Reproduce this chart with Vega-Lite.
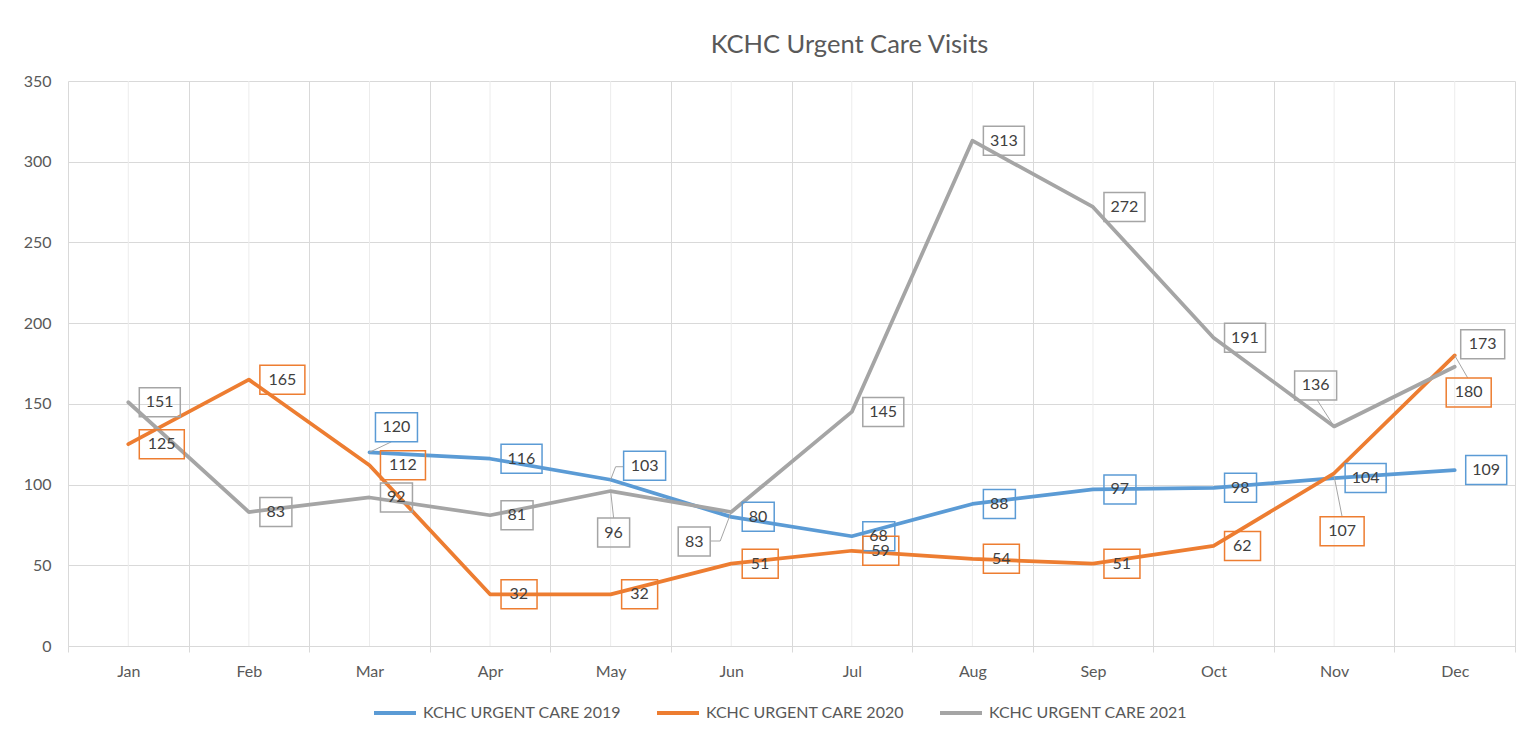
{
  "$schema": "https://vega.github.io/schema/vega-lite/v6.json",
  "width": 1447,
  "height": 565,
  "autosize": {"type": "none"},
  "padding": {"left": 68, "top": 81, "right": 14, "bottom": 92},
  "background": "#ffffff",
  "config": {
    "font": "Lato",
    "view": {"stroke": null},
    "text": {"font": "Lato"}
  },
  "title": {
    "text": "KCHC Urgent Care Visits",
    "fontSize": 25.5,
    "font": "Lato",
    "fontWeight": "normal",
    "color": "#595959",
    "dx": 58,
    "offset": 15
  },
  "data": {
    "values": [
      {"month": "Mar", "series": "KCHC URGENT CARE 2019", "value": 120},
      {"month": "Apr", "series": "KCHC URGENT CARE 2019", "value": 116},
      {"month": "May", "series": "KCHC URGENT CARE 2019", "value": 103},
      {"month": "Jun", "series": "KCHC URGENT CARE 2019", "value": 80},
      {"month": "Jul", "series": "KCHC URGENT CARE 2019", "value": 68},
      {"month": "Aug", "series": "KCHC URGENT CARE 2019", "value": 88},
      {"month": "Sep", "series": "KCHC URGENT CARE 2019", "value": 97},
      {"month": "Oct", "series": "KCHC URGENT CARE 2019", "value": 98},
      {"month": "Nov", "series": "KCHC URGENT CARE 2019", "value": 104},
      {"month": "Dec", "series": "KCHC URGENT CARE 2019", "value": 109},
      {"month": "Jan", "series": "KCHC URGENT CARE 2020", "value": 125},
      {"month": "Feb", "series": "KCHC URGENT CARE 2020", "value": 165},
      {"month": "Mar", "series": "KCHC URGENT CARE 2020", "value": 112},
      {"month": "Apr", "series": "KCHC URGENT CARE 2020", "value": 32},
      {"month": "May", "series": "KCHC URGENT CARE 2020", "value": 32},
      {"month": "Jun", "series": "KCHC URGENT CARE 2020", "value": 51},
      {"month": "Jul", "series": "KCHC URGENT CARE 2020", "value": 59},
      {"month": "Aug", "series": "KCHC URGENT CARE 2020", "value": 54},
      {"month": "Sep", "series": "KCHC URGENT CARE 2020", "value": 51},
      {"month": "Oct", "series": "KCHC URGENT CARE 2020", "value": 62},
      {"month": "Nov", "series": "KCHC URGENT CARE 2020", "value": 107},
      {"month": "Dec", "series": "KCHC URGENT CARE 2020", "value": 180},
      {"month": "Jan", "series": "KCHC URGENT CARE 2021", "value": 151},
      {"month": "Feb", "series": "KCHC URGENT CARE 2021", "value": 83},
      {"month": "Mar", "series": "KCHC URGENT CARE 2021", "value": 92},
      {"month": "Apr", "series": "KCHC URGENT CARE 2021", "value": 81},
      {"month": "May", "series": "KCHC URGENT CARE 2021", "value": 96},
      {"month": "Jun", "series": "KCHC URGENT CARE 2021", "value": 83},
      {"month": "Jul", "series": "KCHC URGENT CARE 2021", "value": 145},
      {"month": "Aug", "series": "KCHC URGENT CARE 2021", "value": 313},
      {"month": "Sep", "series": "KCHC URGENT CARE 2021", "value": 272},
      {"month": "Oct", "series": "KCHC URGENT CARE 2021", "value": 191},
      {"month": "Nov", "series": "KCHC URGENT CARE 2021", "value": 136},
      {"month": "Dec", "series": "KCHC URGENT CARE 2021", "value": 173}
    ]
  },
  "encoding": {
    "x": {
      "field": "month",
      "type": "ordinal",
      "sort": ["Jan", "Feb", "Mar", "Apr", "May", "Jun", "Jul", "Aug", "Sep", "Oct", "Nov", "Dec"],
      "scale": {"paddingInner": 0, "paddingOuter": 0},
      "axis": {
        "title": null,
        "labelAngle": 0,
        "labelFontSize": 16,
        "labelColor": "#595959",
        "labelPadding": 11,
        "tickBand": "extent",
        "tickSize": 6,
        "tickColor": "#d9d9d9",
        "domainColor": "#d9d9d9",
        "grid": true,
        "gridColor": "#d9d9d9"
      }
    }
  },
  "layer": [
    {
      "transform": [{"filter": "datum.series == 'KCHC URGENT CARE 2021'"}],
      "mark": {"type": "rule", "color": "#ececec", "strokeWidth": 1},
      "encoding": {}
    },
    {
      "encoding": {
        "y": {
          "field": "value",
          "type": "quantitative",
          "scale": {"domain": [0, 350]},
          "axis": {
            "title": null,
            "values": [0, 50, 100, 150, 200, 250, 300, 350],
            "labelFontSize": 16,
            "labelColor": "#595959",
            "labelPadding": 17,
            "ticks": false,
            "tickSize": 0,
            "domain": false,
            "grid": true,
            "gridColor": "#d9d9d9"
          }
        }
      },
      "layer": [
        {
          "mark": {"type": "line", "strokeWidth": 3.75, "strokeCap": "round", "strokeJoin": "round"},
          "encoding": {
            "color": {
              "field": "series",
              "type": "nominal",
              "scale": {
                "domain": ["KCHC URGENT CARE 2019", "KCHC URGENT CARE 2020", "KCHC URGENT CARE 2021"],
                "range": ["#5B9BD5", "#ED7D31", "#A5A5A5"]
              },
              "legend": {
                "title": null,
                "orient": "none",
                "legendX": 304,
                "legendY": 609,
                "direction": "horizontal",
                "symbolType": "stroke",
                "symbolSize": 1764,
                "symbolStrokeWidth": 4,
                "labelFontSize": 16,
                "labelLimit": 400,
                "labelColor": "#595959",
                "labelOffset": 5,
                "columnPadding": 28,
                "padding": 0
              }
            }
          }
        },
        {
          "transform": [{"filter": "!((datum.month=='Mar'&&datum.value==120)||(datum.month=='May'&&(datum.value==103||datum.value==96))||(datum.month=='Jun'&&datum.value==83)||(datum.month=='Nov'&&(datum.value==136||datum.value==107))||(datum.month=='Dec'&&(datum.value==173||datum.value==180)))"}],
          "layer": [
            {
              "mark": {"type": "point", "size": 4, "filled": false, "strokeWidth": 1.5, "opacity": 1},
              "encoding": {
                "color": {"field": "series", "type": "nominal", "legend": null},
                "shape": {
                  "condition": [
                    {"test": "datum.series=='KCHC URGENT CARE 2020' && datum.value>=100", "value": "M11,-14.5H56V14.5H11Z"},
                    {"test": "datum.series=='KCHC URGENT CARE 2020'", "value": "M11,-14.5H47V14.5H11Z"},
                    {"test": "datum.value>=100", "value": "M11,-14.5H52V14.5H11Z"}
                  ],
                  "value": "M11,-14.5H43V14.5H11Z"
                }
              }
            },
            {
              "transform": [{"filter": "datum.series != 'KCHC URGENT CARE 2020'"}],
              "mark": {"type": "text", "align": "left", "baseline": "middle", "dx": 17.5, "fontSize": 16, "color": "#404040"},
              "encoding": {"text": {"field": "value", "type": "quantitative"}}
            },
            {
              "transform": [{"filter": "datum.series == 'KCHC URGENT CARE 2020'"}],
              "mark": {"type": "text", "align": "left", "baseline": "middle", "dx": 19.5, "fontSize": 16, "color": "#404040"},
              "encoding": {"text": {"field": "value", "type": "quantitative"}}
            }
          ]
        },
        {
          "transform": [{"filter": "datum.month=='Mar' && datum.value==120"}],
          "layer": [
            {"mark": {"type": "point", "shape": "M0,0L22,-10.5", "size": 4, "filled": false, "color": "#a5a5a5", "strokeWidth": 1, "opacity": 1}},
            {"mark": {"type": "point", "shape": "M6,-39.5H48V-10.5H6Z", "size": 4, "filled": false, "strokeWidth": 1.5, "opacity": 1}, "encoding": {"color": {"field": "series", "type": "nominal", "legend": null}}},
            {"mark": {"type": "text", "dx": 27, "dy": -25, "align": "center", "baseline": "middle", "fontSize": 16, "color": "#404040"}, "encoding": {"text": {"field": "value", "type": "quantitative"}}}
          ]
        },
        {
          "transform": [{"filter": "datum.month=='May' && datum.value==103"}],
          "layer": [
            {"mark": {"type": "point", "shape": "M0,0L5,-13L13,-13", "size": 4, "filled": false, "color": "#a5a5a5", "strokeWidth": 1, "opacity": 1}},
            {"mark": {"type": "point", "shape": "M13,-28.5H55V0.5H13Z", "size": 4, "filled": false, "strokeWidth": 1.5, "opacity": 1}, "encoding": {"color": {"field": "series", "type": "nominal", "legend": null}}},
            {"mark": {"type": "text", "dx": 34, "dy": -14, "align": "center", "baseline": "middle", "fontSize": 16, "color": "#404040"}, "encoding": {"text": {"field": "value", "type": "quantitative"}}}
          ]
        },
        {
          "transform": [{"filter": "datum.month=='May' && datum.value==96"}],
          "layer": [
            {"mark": {"type": "point", "shape": "M0,0L3,27", "size": 4, "filled": false, "color": "#a5a5a5", "strokeWidth": 1, "opacity": 1}},
            {"mark": {"type": "point", "shape": "M-13,27H19V56H-13Z", "size": 4, "filled": false, "strokeWidth": 1.5, "opacity": 1}, "encoding": {"color": {"field": "series", "type": "nominal", "legend": null}}},
            {"mark": {"type": "text", "dx": 3, "dy": 41.5, "align": "center", "baseline": "middle", "fontSize": 16, "color": "#404040"}, "encoding": {"text": {"field": "value", "type": "quantitative"}}}
          ]
        },
        {
          "transform": [{"filter": "datum.month=='Jun' && datum.value==83"}],
          "layer": [
            {"mark": {"type": "point", "shape": "M0,0L-11,29L-21,29", "size": 4, "filled": false, "color": "#a5a5a5", "strokeWidth": 1, "opacity": 1}},
            {"mark": {"type": "point", "shape": "M-53,15H-21V44H-53Z", "size": 4, "filled": false, "strokeWidth": 1.5, "opacity": 1}, "encoding": {"color": {"field": "series", "type": "nominal", "legend": null}}},
            {"mark": {"type": "text", "dx": -37, "dy": 29.5, "align": "center", "baseline": "middle", "fontSize": 16, "color": "#404040"}, "encoding": {"text": {"field": "value", "type": "quantitative"}}}
          ]
        },
        {
          "transform": [{"filter": "datum.month=='Nov' && datum.value==136"}],
          "layer": [
            {"mark": {"type": "point", "shape": "M0,0L-17,-26.5", "size": 4, "filled": false, "color": "#a5a5a5", "strokeWidth": 1, "opacity": 1}},
            {"mark": {"type": "point", "shape": "M-39.5,-55.5H2.5V-26.5H-39.5Z", "size": 4, "filled": false, "strokeWidth": 1.5, "opacity": 1}, "encoding": {"color": {"field": "series", "type": "nominal", "legend": null}}},
            {"mark": {"type": "text", "dx": -18.5, "dy": -41, "align": "center", "baseline": "middle", "fontSize": 16, "color": "#404040"}, "encoding": {"text": {"field": "value", "type": "quantitative"}}}
          ]
        },
        {
          "transform": [{"filter": "datum.month=='Dec' && datum.value==173"}],
          "layer": [
            {"mark": {"type": "point", "shape": "M6,-37H50V-8H6Z", "size": 4, "filled": false, "strokeWidth": 1.5, "opacity": 1}, "encoding": {"color": {"field": "series", "type": "nominal", "legend": null}}},
            {"mark": {"type": "text", "dx": 28, "dy": -22.5, "align": "center", "baseline": "middle", "fontSize": 16, "color": "#404040"}, "encoding": {"text": {"field": "value", "type": "quantitative"}}}
          ]
        },
        {
          "transform": [{"filter": "datum.month=='Dec' && datum.value==180"}],
          "layer": [
            {"mark": {"type": "point", "shape": "M0,0L13,22.5", "size": 4, "filled": false, "color": "#a5a5a5", "strokeWidth": 1, "opacity": 1}},
            {"mark": {"type": "point", "shape": "M-8.5,22.5H36.5V51.5H-8.5Z", "size": 4, "filled": false, "strokeWidth": 1.5, "opacity": 1}, "encoding": {"color": {"field": "series", "type": "nominal", "legend": null}}},
            {"mark": {"type": "text", "dx": 14, "dy": 37, "align": "center", "baseline": "middle", "fontSize": 16, "color": "#404040"}, "encoding": {"text": {"field": "value", "type": "quantitative"}}}
          ]
        },
        {
          "transform": [{"filter": "datum.month=='Nov' && datum.value==107"}],
          "layer": [
            {"mark": {"type": "point", "shape": "M0,3L8,43.5", "size": 4, "filled": false, "color": "#a5a5a5", "strokeWidth": 1, "opacity": 1}},
            {"mark": {"type": "point", "shape": "M-14,43.5H30V72.5H-14Z", "size": 4, "filled": false, "strokeWidth": 1.5, "opacity": 1}, "encoding": {"color": {"field": "series", "type": "nominal", "legend": null}}},
            {"mark": {"type": "text", "dx": 8, "dy": 58, "align": "center", "baseline": "middle", "fontSize": 16, "color": "#404040"}, "encoding": {"text": {"field": "value", "type": "quantitative"}}}
          ]
        }
      ]
    }
  ]
}
